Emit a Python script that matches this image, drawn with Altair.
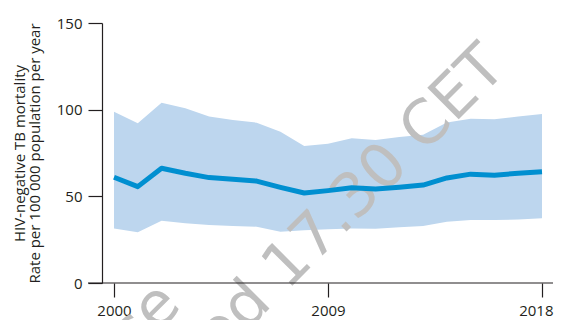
import altair as alt
import pandas as pd

years = list(range(2000, 2019))
rate = [61.0, 55.6, 66.2, 63.3, 60.8, 59.8, 58.8, 55.2, 51.9, 53.3,
        55.0, 54.2, 55.2, 56.5, 60.6, 62.8, 62.2, 63.3, 64.2]
upper = [98.8, 92.1, 104.0, 100.8, 96.0, 94.0, 92.5, 87.3, 79.1, 80.4,
         83.5, 82.5, 84.2, 85.6, 92.6, 94.8, 94.5, 96.0, 97.5]
lower = [31.5, 29.3, 35.9, 34.4, 33.5, 32.9, 32.5, 29.6, 30.4, 31.0,
         31.5, 31.3, 32.1, 32.9, 35.4, 36.3, 36.3, 36.7, 37.3]
x_ticks = [2000, 2009, 2018]
y_ticks = [0, 50, 100, 150]
y_title = ["HIV-negative TB mortality", "Rate per 100 000 population per year"]
watermark_lines = ["Press release", "Embargoed 17.30 CET"]

df = pd.DataFrame({"year": years, "rate": rate, "lo": lower, "hi": upper})

FONT = "Open Sans"
INK = "#231f20"
W, H = 451, 260

xscale = alt.Scale(domain=[1999.495, 2018.463], nice=False, zero=False)
yscale = alt.Scale(domain=[0, 150], nice=False)

last_tick = f"datum.value == {x_ticks[-1]}"
xaxis = alt.Axis(values=x_ticks, format="d", title=None, grid=False, domain=False,
                 tickSize=14, labelPadding=6, labelFontSize=15,
                 labelAlign={"condition": {"test": last_tick, "value": "right"}, "value": "center"},
                 labelOffset={"condition": {"test": last_tick, "value": 11}, "value": 0})
yaxis = alt.Axis(values=y_ticks, title=y_title, grid=False, tickSize=14,
                 labelPadding=6, labelFontSize=15,
                 titleAngle=270, titleX=-78, titleY=130, titleAlign="center",
                 titleBaseline="alphabetic", titleLineHeight=15,
                 titleFontSize=15, titleFontWeight="normal")

base = alt.Chart(df)

band = base.mark_area(color="#bdd6ee", opacity=1).encode(
    x=alt.X("year:Q", scale=xscale, axis=xaxis),
    y=alt.Y("lo:Q", scale=yscale, axis=yaxis),
    y2="hi:Q",
)

wm1 = alt.Chart(pd.DataFrame({"t": [watermark_lines[0]]})).mark_text(
    angle=315, align="right", baseline="alphabetic", font="DejaVu Sans",
    fontSize=61, color="#bfbfbf"
).encode(text="t:N", x=alt.value(81), y=alt.value(284))

wm2 = alt.Chart(pd.DataFrame({"t": [watermark_lines[1]]})).mark_text(
    angle=315, align="right", baseline="alphabetic", font="DejaVu Sans",
    fontSize=61, color="#bfbfbf"
).encode(text="t:N", x=alt.value(406), y=alt.value(47))

line = base.mark_line(color="#008fd0", strokeWidth=5, strokeJoin="round").encode(
    x=alt.X("year:Q", scale=xscale),
    y=alt.Y("rate:Q", scale=yscale),
)

xrule = alt.Chart(pd.DataFrame({"a": [0]})).mark_rule(color=INK, strokeWidth=1.2).encode(
    x=alt.value(-14), x2=alt.value(W), y=alt.value(H)
)

chart = alt.layer(band, wm1, wm2, line, xrule).properties(
    width=W, height=H,
    autosize=alt.AutoSizeParams(type="none"),
    padding={"left": 94, "top": 15, "right": 1, "bottom": 50},
).configure_view(stroke=None).configure_axis(
    domainColor=INK, tickColor=INK, labelColor=INK, titleColor=INK,
    labelFont=FONT, titleFont=FONT, domainWidth=1.2, tickWidth=1.2,
)

chart.save("out.html", embed_options={"renderer": "svg", "actions": False})
